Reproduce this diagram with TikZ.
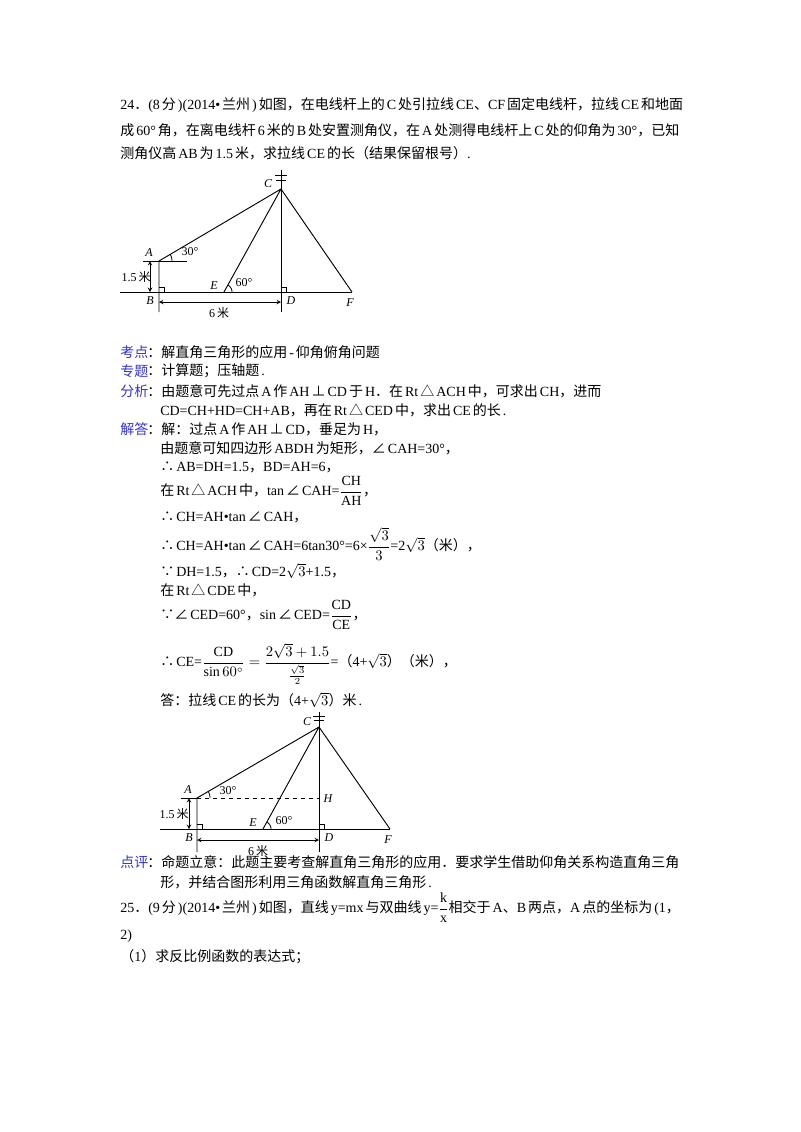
\documentclass[tikz,border=0pt]{standalone}
\usepackage{fontspec}
\usepackage{amsmath}
\setmainfont{Liberation Serif}
\newfontfamily\cjk{Noto Sans CJK SC}
\XeTeXinterchartokenstate=1
\newXeTeXintercharclass\cjkcls
\newXeTeXintercharclass\cjkp
\newcount\cc
\def\setrange#1#2#3{\cc=#1 \loop\XeTeXcharclass\cc=#3 \advance\cc by 1 \ifnum\cc<#2\repeat}
\setrange{"4E00}{"A000}{\cjkcls}
\setrange{"3000}{"3040}{\cjkp}
\setrange{"FF00}{"FF60}{\cjkp}
\setrange{"2220}{"2236}{\cjkcls}
\XeTeXcharclass"2234=\cjkcls \XeTeXcharclass"2235=\cjkcls \XeTeXcharclass"22A5=\cjkcls \XeTeXcharclass"25B3=\cjkcls
\XeTeXinterchartoks 0 \cjkcls {\hspace{1.5pt}\cjk}
\XeTeXinterchartoks 4095 \cjkcls {\cjk}
\XeTeXinterchartoks \cjkcls 0 {\rmfamily\hspace{1.5pt}}
\XeTeXinterchartoks \cjkcls 4095 {\rmfamily}
\XeTeXinterchartoks 0 \cjkp {\cjk}
\XeTeXinterchartoks 4095 \cjkp {\cjk}
\XeTeXinterchartoks \cjkp 0 {\rmfamily}
\XeTeXinterchartoks \cjkp 4095 {\rmfamily}
\definecolor{lab}{rgb}{0.2,0.2,0.85}
\begin{document}
\begin{tikzpicture}[x=0.75pt,y=-0.75pt,
 t/.style={anchor=west,inner sep=0pt,font=\fontsize{10.5pt}{12pt}\selectfont},
 l/.style={t,text=lab},
 lb/.style={inner sep=1pt,font=\fontsize{9pt}{10pt}\selectfont\itshape},
 dim/.style={font=\fontsize{9pt}{10pt}\selectfont,inner sep=1pt},
 g/.style={line width=0.7pt},
 ar/.style={<->,>=stealth,line width=0.5pt}]
\useasboundingbox[fill=white] (0,0) rectangle (800,1132);
% text
\node[t] (p1) at (120,105) {24．(8分)(2014•兰州)如图，在电线杆上的C处引拉线CE、CF固定电线杆，拉线CE和地面};
\node[t] (p2) at (120,130) {成60°角，在离电线杆6米的B处安置测角仪，在A处测得电线杆上C处的仰角为30°，已知};
\node[t] (p3) at (120,153) {测角仪高AB为1.5米，求拉线CE的长（结果保留根号）.};
\node[l] (k1) at (120,352) {考点};
\node[t] (k2) at (147,352) {：解直角三角形的应用-仰角俯角问题};
\node[l] (z1) at (120,371) {专题};
\node[t] (z2) at (147,371) {：计算题；压轴题.};
\node[l] (f1) at (120,391) {分析};
\node[t] (f2) at (147,391) {：由题意可先过点A作AH⊥CD于H．在Rt△ACH中，可求出CH，进而};
\node[t] (f3) at (160,410) {CD=CH+HD=CH+AB，再在Rt△CED中，求出CE的长.};
\node[l] (j1) at (120,429) {解答};
\node[t] (j2) at (147,429) {：解：过点A作AH⊥CD，垂足为H，};
\node[t] (j3) at (160,448) {由题意可知四边形ABDH为矩形，∠CAH=30°，};
\node[t] (j4) at (160,467) {∴AB=DH=1.5，BD=AH=6，};
\node[t] (j5) at (160,491) {在Rt△ACH中，tan∠CAH=$\dfrac{\mathrm{CH}}{\mathrm{AH}}$，};
\node[t] (j6) at (160,517) {∴CH=AH•tan∠CAH，};
\node[t] (j7) at (160,544) {∴CH=AH•tan∠CAH=6tan30°=6×$\dfrac{\sqrt3}{3}$=2$\sqrt3$（米），};
\node[t] (j8) at (160,571) {∵DH=1.5，∴CD=2$\sqrt3$+1.5，};
\node[t] (j9) at (160,590) {在Rt△CDE中，};
\node[t] (j10) at (160,615) {∵∠CED=60°，sin∠CED=$\dfrac{\mathrm{CD}}{\mathrm{CE}}$，};
\node[t] (j11) at (160,664) {∴CE=$\dfrac{\mathrm{CD}}{\sin60^\circ}=\dfrac{2\sqrt3+1.5}{\tfrac{\sqrt3}{2}}$=（4+$\sqrt3$）（米），};
\node[t] (j12) at (160,700) {答：拉线CE的长为（4+$\sqrt3$）米.};
\node[l] (d1) at (120,862) {点评};
\node[t] (d2) at (147,862) {：命题立意：此题主要考查解直角三角形的应用．要求学生借助仰角关系构造直角三角};
\node[t] (d3) at (160,882) {形，并结合图形利用三角函数解直角三角形.};
\node[t] (q1) at (120,908) {25．(9分)(2014•兰州)如图，直线y=mx与双曲线y=$\dfrac{\mathrm{k}}{\mathrm{x}}$相交于A、B两点，A点的坐标为(1，};
\node[t] (q2) at (120,936) {2)};
\node[t] (q3) at (120,957) {（1）求反比例函数的表达式；};
% figure 1
\coordinate (C) at (281,189); \coordinate (A) at (159,261); \coordinate (B) at (159,292);
\coordinate (D) at (281,292); \coordinate (E) at (224,292); \coordinate (F) at (352,292);
\draw[g] (120,292) -- (F);
\draw[g] (281,170) -- (281,312);
\draw[line width=0.5pt] (275,175) -- (287,175) (276,180) -- (286,180);
\draw[g] (159,312) -- (A) -- (C) -- (E) (C) -- (F);
\draw[g] (A) -- (187,261);
\draw[line width=0.5pt] (143,261) -- (A);
\draw[ar] (150,261) -- (150,292);
\draw[ar] (159,302) -- (281,302);
\draw[line width=0.5pt] (159,287) -| (164,292) (281,287) -| (286,292);
\draw[line width=0.6pt] plot[domain=0:32,samples=10] ({159+13*cos(\x)},{261-13*sin(\x)});
\draw[line width=0.6pt] plot[domain=0:62,samples=10] ({224+8*cos(\x)},{292-8*sin(\x)});
\node[lb] (lC) at (268,184) {C}; \node[lb] (lA) at (149,253) {A};
\node[lb] (lB) at (150,301) {B}; \node[lb] (lE) at (214,286) {E};
\node[lb] (lD) at (291,301) {D}; \node[lb] (lF) at (350,303) {F};
\node[dim] (a30) at (190,252) {30°}; \node[dim] (a60) at (244,283) {60°};
\node[dim] (m15) at (136,277) {1.5米}; \node[dim] (m6) at (219,313) {6米};
% figure 2
\coordinate (C2) at (319,727); \coordinate (A2) at (197,798); \coordinate (H2) at (319,798);
\coordinate (D2) at (319,829); \coordinate (E2) at (263,829); \coordinate (F2) at (390,829);
\draw[g] (160,829) -- (F2);
\draw[g] (319,712) -- (319,852);
\draw[line width=0.5pt] (313,716) -- (325,716) (314,720) -- (324,720);
\draw[g] (197,852) -- (A2) -- (C2) -- (E2) (C2) -- (F2);
\draw[dashed,line width=0.5pt] (A2) -- (H2);
\draw[line width=0.5pt] (181,798) -- (A2);
\draw[ar] (189,798) -- (189,829);
\draw[ar] (197,840) -- (319,840);
\draw[line width=0.5pt] (197,824) -| (202,829) (319,824) -| (324,829);
\draw[line width=0.6pt] plot[domain=0:32,samples=10] ({197+13*cos(\x)},{798-13*sin(\x)});
\draw[line width=0.6pt] plot[domain=0:62,samples=10] ({263+8*cos(\x)},{829-8*sin(\x)});
\node[lb] (lC2) at (307,722) {C}; \node[lb] (lA2) at (188,790) {A};
\node[lb] (lH2) at (328,799) {H};
\node[lb] (lB2) at (189,838) {B}; \node[lb] (lE2) at (253,823) {E};
\node[lb] (lD2) at (329,838) {D}; \node[lb] (lF2) at (388,840) {F};
\node[dim] (b30) at (228,791) {30°}; \node[dim] (b60) at (284,821) {60°};
\node[dim] (n15) at (174,814) {1.5米}; \node[dim] (n6) at (258,851) {6米};
\end{tikzpicture}
\end{document}
